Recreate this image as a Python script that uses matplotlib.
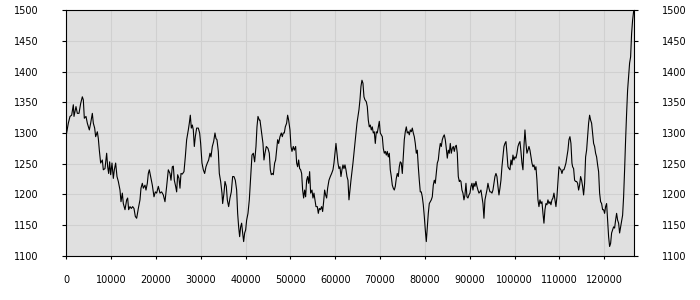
import matplotlib
matplotlib.use("Agg")
import matplotlib.pyplot as plt

x_vals = [
    0, 454, 826, 1198, 1569, 1718, 2164, 2462, 2834, 3205, 3577, 3800, 4023, 4395, 4693, 5139, 5436, 5808, 6031, 6328,
    6552, 6923, 7146, 7369, 7667, 8039, 8262, 8634, 9005, 9228, 9452, 9675, 9898, 10195, 10493, 10716, 11013, 11311, 11608, 11980,
    12203, 12500, 12723, 13095, 13467, 13690, 13913, 14211, 14508, 14805, 15103, 15400, 15698, 16070, 16441, 16664, 16962, 17185, 17557, 17780,
    18077, 18300, 18523, 18821, 19193, 19565, 19862, 20159, 20531,
    20902, 21274, 21646, 22017, 22389, 22761, 23133, 23356, 23653, 23876, 24099, 24397, 24620, 24843, 25141, 25364, 25587, 25884, 26256, 26553,
    26851, 27223, 27446, 27669, 27892, 28115, 28338, 28561, 28784, 29082, 29453, 29751, 29974, 30271, 30569, 30866, 31164, 31461, 31759, 32056,
    32279, 32577, 32874, 33171, 33394, 33618, 33915, 34138, 34436, 34733, 34882, 35179, 35402, 35700, 35923, 36220, 36518, 36815, 37113, 37410,
    37707, 38005, 38228, 38451, 38674, 38897, 39120, 39344, 39567, 39790, 40013, 40236, 40533, 40831, 41128, 41426, 41723, 42021, 42318, 42541,
    42764, 43062,
    43209, 43581, 43878, 44101, 44324, 44622, 44994, 45291, 45514, 45737, 45960, 46183, 46481, 46704, 46927, 47150, 47373, 47671, 47968, 48191,
    48414, 48637, 48860, 49158, 49381, 49604, 49901, 50124, 50348, 50645, 50868, 51166, 51389, 51612, 51835, 52058, 52281, 52504, 52727, 52950,
    53173, 53396, 53619, 53842, 54066, 54289, 54512, 54809, 55032, 55255, 55478, 55701, 55999, 56222, 56445, 56668, 56966, 57189, 57412, 57635,
    57858, 58081, 58304, 58602, 58899, 59196, 59494, 59717, 59940, 60163, 60386, 60609, 60832, 61055, 61278, 61502, 61725, 61948, 62171, 62394,
    62617, 62840, 63063, 63286, 63509, 63732, 63955, 64179, 64402, 64625, 64848, 65071, 65294,
    65516, 65739, 65962, 66185, 66408, 66631, 66929, 67152, 67375, 67598, 67821, 68044, 68267, 68490, 68713, 68937, 69160, 69383, 69606, 69829,
    70052, 70275, 70498, 70721, 70944, 71167, 71390, 71614, 71837, 72060, 72283, 72506, 72729, 72952, 73175, 73398, 73621, 73844, 74067, 74290,
    74514, 74737, 74960, 75183, 75406, 75629, 75852, 76075, 76298, 76521, 76744, 76967, 77191, 77414, 77637, 77860, 78083, 78306, 78529, 78752,
    78975, 79198, 79421, 79644, 79868, 80091, 80314, 80537, 80760, 80983, 81206, 81429, 81652, 81875, 82098, 82321, 82545, 82768, 82991, 83214,
    83437, 83660, 83883, 84106, 84329, 84552, 84775, 84998, 85222, 85445, 85668, 85891, 86114, 86337, 86560, 86783, 87006, 87229, 87452, 87675,
    87823, 88046, 88269, 88492, 88715, 88938, 89161, 89385, 89608, 89831, 90054, 90277, 90500, 90723, 90946, 91169, 91392, 91615, 91838, 92062,
    92285, 92508, 92731, 92954, 93177, 93400, 93623, 93846, 94069, 94292, 94515, 94739, 94962, 95185, 95408, 95631, 95854, 96077, 96300, 96523,
    96746, 96969, 97192, 97416, 97639, 97862, 98085, 98308, 98531, 98754, 98977, 99200, 99423, 99646, 99870, 100093, 100316, 100539, 100762, 100985,
    101208, 101431, 101654, 101877, 102100, 102323, 102547, 102770, 102993, 103216, 103439, 103662, 103885, 104108, 104331, 104554, 104777, 105000, 105224, 105447,
    105670, 105893, 106116, 106339, 106562, 106785, 107008, 107231, 107454, 107678, 107901, 108124, 108347, 108570, 108793, 109016, 109239, 109462, 109685, 109908,
    110130, 110353, 110576, 110799, 111022, 111245, 111468, 111692, 111915, 112138, 112361, 112584, 112807, 112956, 113179, 113402, 113625, 113848, 114071, 114294,
    114517, 114740, 114963, 115186, 115410, 115633, 115856, 116079, 116302, 116525, 116748, 116971, 117194, 117417, 117640, 117863, 118086, 118310, 118533, 118756,
    118979, 119202, 119425, 119648, 119871, 120094, 120317, 120540, 120763, 120986, 121210, 121433, 121656, 121879, 122102, 122325, 122548, 122771, 122994, 123217,
    123440, 123663, 123886, 124110, 124333, 124556, 124779, 125002, 125225, 125448, 125671, 125894, 126117, 126340, 126563, 126712,
]

y_vals = [
    1297, 1316, 1327, 1329, 1346, 1327, 1343, 1332, 1332, 1348, 1359, 1354, 1324, 1327, 1316, 1305, 1316, 1332, 1316, 1308,
    1294, 1302, 1291, 1272, 1251, 1256, 1240, 1242, 1267, 1245, 1234, 1253, 1232, 1251, 1226, 1240, 1251, 1229, 1221, 1207,
    1188, 1202, 1185, 1175, 1191, 1194, 1175, 1180, 1177, 1180, 1177, 1164, 1161, 1177, 1191, 1210, 1218, 1210, 1215, 1207,
    1218, 1234, 1240, 1229, 1215, 1196, 1204, 1202, 1213,
    1202, 1204, 1199, 1188, 1213, 1240, 1234, 1223, 1245, 1246, 1223, 1213, 1204, 1232, 1226, 1210, 1234, 1233, 1237, 1261,
    1289, 1305, 1316, 1329, 1308, 1313, 1305, 1278, 1294, 1308, 1308, 1300, 1283, 1251, 1240, 1234, 1245, 1251, 1256, 1267,
    1261, 1278, 1286, 1300, 1291, 1289, 1270, 1234, 1221, 1202, 1185, 1202, 1221, 1213, 1191, 1180, 1194, 1204, 1229, 1229,
    1223, 1207, 1169, 1147, 1131, 1147, 1153, 1137, 1123, 1137, 1142, 1158, 1169, 1191, 1229, 1264, 1267, 1253, 1278, 1310,
    1327, 1321,
    1321, 1300, 1283, 1256, 1267, 1278, 1275, 1267, 1240, 1232, 1234, 1232, 1251, 1256, 1272, 1289, 1283, 1294, 1300, 1294,
    1300, 1300, 1310, 1316, 1329, 1321, 1305, 1278, 1270, 1278, 1272, 1278, 1251, 1245, 1256, 1242, 1240, 1234, 1207, 1194,
    1207, 1196, 1223, 1229, 1218, 1237, 1202, 1207, 1194, 1202, 1191, 1180, 1180, 1169, 1177, 1175, 1180, 1172, 1188, 1207,
    1199, 1194, 1210, 1223, 1229, 1234, 1240, 1251, 1267, 1283, 1267, 1251, 1242, 1245, 1229, 1240, 1248, 1242, 1248, 1240,
    1229, 1223, 1191, 1207, 1223, 1237, 1251, 1267, 1283, 1300, 1316, 1327, 1338,
    1354, 1376, 1386, 1381, 1359, 1354, 1351, 1343, 1321, 1310, 1313, 1305, 1310, 1300, 1302, 1283, 1302, 1300, 1310, 1319,
    1300, 1297, 1294, 1275, 1267, 1270, 1264, 1270, 1261, 1267, 1240, 1229, 1215, 1210, 1207, 1213, 1226, 1234, 1229, 1245,
    1253, 1251, 1234, 1261, 1289, 1302, 1310, 1300, 1302, 1297, 1305, 1302, 1308, 1300, 1294, 1283, 1267, 1272, 1245, 1223,
    1204, 1204, 1196, 1183, 1164, 1142, 1123, 1147, 1169, 1185, 1188, 1191, 1196, 1215, 1223, 1218, 1234, 1251, 1256, 1272,
    1283, 1278, 1289, 1294, 1297, 1289, 1275, 1259, 1272, 1267, 1283, 1267, 1275, 1278, 1270, 1278, 1280, 1267, 1229, 1221,
    1223, 1221, 1207, 1202, 1191, 1199, 1218, 1196, 1194, 1199, 1202, 1213, 1218, 1207, 1218, 1213, 1221, 1213, 1207, 1202,
    1204, 1207, 1196, 1185, 1161, 1191, 1199, 1207, 1218, 1210, 1204, 1204, 1202, 1207, 1218, 1229, 1234, 1229, 1213, 1199,
    1210, 1223, 1245, 1261, 1278, 1283, 1286, 1267, 1245, 1242, 1240, 1256, 1248, 1264, 1256, 1261, 1259, 1267, 1278, 1283,
    1286, 1270, 1251, 1240, 1278, 1305, 1283, 1267, 1272, 1278, 1272, 1261, 1251, 1245, 1248, 1240, 1245, 1223, 1191, 1180,
    1191, 1185, 1188, 1169, 1153, 1175, 1185, 1183, 1191, 1185, 1188, 1183, 1191, 1194, 1202, 1191, 1180, 1196, 1221, 1245,
    1242, 1240, 1234, 1240, 1240, 1245, 1251, 1261, 1272, 1289, 1294, 1283, 1251, 1245, 1242, 1223, 1221, 1221, 1218, 1207,
    1215, 1229, 1223, 1213, 1199, 1218, 1261, 1272, 1294, 1316, 1329, 1321, 1316, 1300, 1283, 1278, 1267, 1261, 1248, 1237,
    1202, 1188, 1185, 1175, 1175, 1169, 1180, 1185, 1158, 1131, 1115, 1120, 1137, 1142, 1147, 1145, 1158, 1169, 1158, 1153,
    1137, 1147, 1158, 1166, 1196, 1240, 1289, 1332, 1370, 1392, 1414, 1424, 1462, 1484, 1498, 1500,
]

x_ticks = [0, 10000, 20000, 30000, 40000, 50000, 60000, 70000, 80000, 90000, 100000, 110000, 120000]
y_ticks = [1100, 1150, 1200, 1250, 1300, 1350, 1400, 1450, 1500]

plt.rcParams['font.family'] = ['DejaVu Sans']
fig = plt.figure(figsize=(7, 3), dpi=100)
ax = fig.add_axes([0.0947, 0.1477, 0.8114, 0.818])
ax.set_facecolor('#e0e0e0')
ax.plot(x_vals, y_vals, color='black', lw=0.8)
ax.set_xlim(0, 126712)
ax.set_ylim(1100, 1500)
ax.set_xticks(x_ticks)
ax.set_xticklabels([str(t) for t in x_ticks])
ax.set_yticks(y_ticks)
ax.set_yticklabels([str(t) for t in y_ticks])
ax.grid(True, color='#d0d0d0', lw=0.8)
ax.set_axisbelow(True)
ax.tick_params(axis='y', which='both', left=True, right=True, labelleft=True, labelright=True,
               length=3, width=0.8, pad=17, labelsize=7, direction='out')
ax.tick_params(axis='x', length=2, width=0.8, pad=12, labelsize=7, direction='out')
for s in ax.spines.values():
    s.set_color('black')
    s.set_linewidth(0.8)
fig.savefig('out.png', dpi=100)
